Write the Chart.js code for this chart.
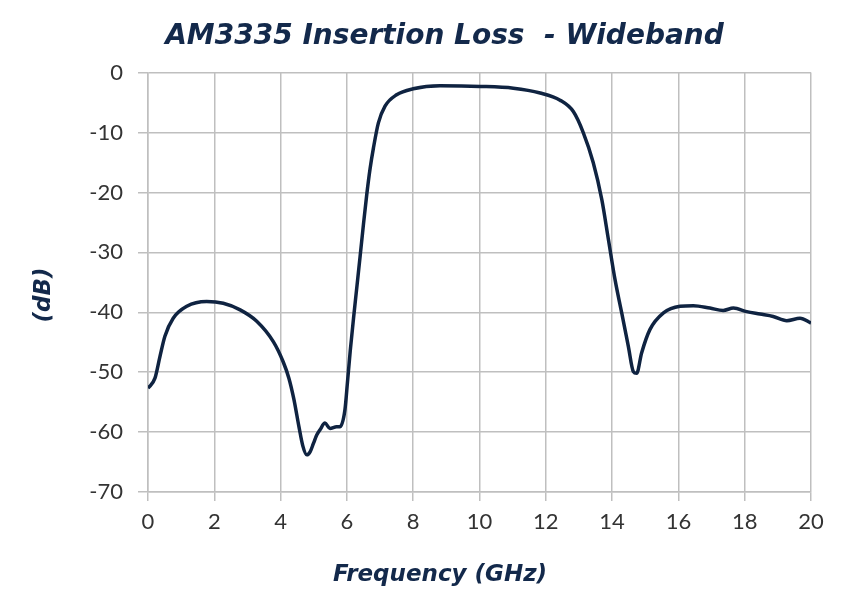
<!DOCTYPE html>
<html>
<head>
<meta charset="utf-8">
<script src="https://cdn.jsdelivr.net/npm/chart.js@4"></script>
<style>
  body { margin: 0; background: #fff; }
  #wrap { width: 850px; height: 603px; }
</style>
</head>
<body>
<div id="wrap"><canvas id="chart" width="850" height="603"></canvas></div>
<script>
// values
const freqGHz = [0, 0.21, 0.36, 0.51, 0.76, 1.17, 1.77, 2.27, 2.78, 3.28, 3.78, 4.08, 4.25, 4.4, 4.55, 4.67, 4.79, 4.89, 4.99, 5.09, 5.19, 5.34, 5.49, 5.69, 5.79, 5.94, 6.02, 6.1, 6.2, 6.3, 6.4, 6.5, 6.6, 6.7, 6.8, 6.95, 7.15, 7.5, 8.0, 8.81, 10.02, 11.02, 11.83, 12.43, 12.83, 13.13, 13.43, 13.69, 13.89, 14.09, 14.29, 14.49, 14.64, 14.74, 14.89, 15.14, 15.55, 16.05, 16.45, 16.95, 17.35, 17.66, 18.06, 18.46, 18.86, 19.27, 19.67, 20.0];
const lossDb = [-52.7, -51.0, -47.4, -44.0, -41.0, -39.0, -38.2, -38.5, -39.6, -41.5, -44.9, -48.3, -51.0, -54.5, -59.0, -62.3, -63.8, -63.3, -61.9, -60.5, -59.6, -58.5, -59.4, -59.1, -59.1, -56.3, -51.5, -46.5, -41.0, -35.8, -30.6, -25.3, -20.3, -16.0, -12.6, -8.4, -5.6, -3.7, -2.7, -2.2, -2.3, -2.6, -3.4, -4.6, -6.5, -10.0, -15.0, -21.2, -27.9, -34.6, -40.1, -45.7, -49.9, -50.2, -46.8, -42.9, -40.1, -39.0, -38.9, -39.3, -39.7, -39.3, -39.9, -40.3, -40.7, -41.4, -41.0, -41.8];

const xTicks = [0, 2, 4, 6, 8, 10, 12, 14, 16, 18, 20];
const yTicks = [0, -10, -20, -30, -40, -50, -60, -70];

const chartTitle = "AM3335 Insertion Loss  - Wideband";
const xTitle = "Frequency (GHz)";
const yTitle = "(dB)";

const navy = "#13294b";
const gridColor = "#bfbfbf";
const tickFont = "Lato, 'Noto Sans', sans-serif";
const titleFont = "'DejaVu Sans', sans-serif";

const points = freqGHz.map((f, i) => ({ x: f, y: lossDb[i] }));

// the original centres its titles on the whole figure, not on the plot area
const figureTitles = {
  id: "figureTitles",
  afterLayout(chart) {
    chart.titleBlock.left = 78;
    chart.titleBlock.right = 811;
  },
  afterDraw(chart) {
    const ctx = chart.ctx;
    ctx.save();
    ctx.fillStyle = navy;
    ctx.textAlign = "center";
    ctx.textBaseline = "middle";
    ctx.font = "italic bold 23px " + titleFont;
    ctx.fillText(xTitle, 440, 575);
    ctx.font = "italic bold 23px " + titleFont;
    ctx.translate(44, 295);
    ctx.rotate(-Math.PI / 2);
    ctx.fillText(yTitle, 0, 0);
    ctx.restore();
  },
};

new Chart(document.getElementById("chart"), {
  type: "line",
  data: {
    datasets: [{
      data: points,
      borderColor: "#0f2341",
      borderWidth: 3.5,
      pointRadius: 0,
      fill: false,
      cubicInterpolationMode: "monotone",
    }],
  },
  options: {
    responsive: false,
    animation: false,
    layout: { padding: { left: 0, right: 39, top: 0, bottom: 0 } },
    plugins: {
      legend: { display: false },
      tooltip: { enabled: false },
      title: {
        display: true,
        text: chartTitle,
        color: navy,
        font: { family: titleFont, size: 28, weight: "bold", style: "italic" },
        padding: { top: 20, bottom: 19 },
      },
    },
    scales: {
      x: {
        type: "linear",
        min: 0,
        max: 20,
        afterBuildTicks: (scale) => { scale.ticks = xTicks.map(v => ({ value: v })); },
        afterFit: (scale) => { scale.height = 111; },
        grid: { color: gridColor, lineWidth: 1.5, tickLength: 9, tickColor: gridColor },
        border: { color: gridColor, width: 1.5 },
        ticks: {
          color: "#333",
          padding: 8,
          font: { family: tickFont, size: 22 },
        },
      },
      y: {
        type: "linear",
        min: -70,
        max: 0,
        afterBuildTicks: (scale) => { scale.ticks = yTicks.map(v => ({ value: v })); },
        afterFit: (scale) => { scale.width = 148; },
        grid: { color: gridColor, lineWidth: 1.5, tickLength: 10, tickColor: gridColor },
        border: { color: gridColor, width: 1.5 },
        ticks: {
          color: "#333",
          padding: 15,
          font: { family: tickFont, size: 22 },
        },
      },
    },
  },
  plugins: [figureTitles],
});
</script>
</body>
</html>
